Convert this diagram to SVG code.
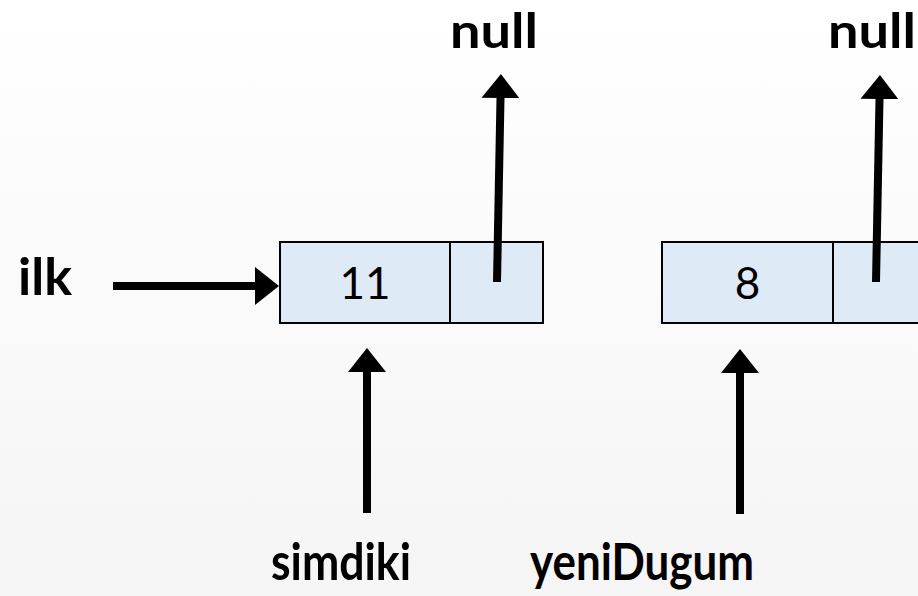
<svg xmlns="http://www.w3.org/2000/svg" width="918" height="596" viewBox="0 0 918 596">
  <style>
    .cell { fill: #DEEAF6; stroke: #000; stroke-width: 2; }
    .val { font-family: Lato, "Open Sans", sans-serif; font-size: 44px; fill: #000; text-anchor: middle; }
    .lbl { font-family: Lato, "Open Sans", sans-serif; font-weight: bold; font-size: 52px; fill: #000; }
    .top { font-size: 47px; }
    .conn { stroke: #000; stroke-width: 8; fill: none; marker-end: url(#head); }
  </style>
  <defs>
    <linearGradient id="bg" x1="0" y1="0" x2="0" y2="1">
      <stop offset="0" stop-color="#FFFFFF"/>
      <stop offset="1" stop-color="#F5F5F5"/>
    </linearGradient>
    <marker id="head" markerUnits="userSpaceOnUse" markerWidth="24" markerHeight="38" refX="0" refY="19" orient="auto" viewBox="0 0 24 38">
      <path d="M0,0 L24,19 L0,38 Z" fill="#000"/>
    </marker>
  </defs>
  <rect x="0" y="0" width="918" height="596" fill="url(#bg)"/>

  <g id="node-11">
    <rect class="cell" x="280" y="242" width="170" height="81"/>
    <rect class="cell" x="450" y="242" width="93" height="81"/>
    <text class="val" x="365" y="299">11</text>
  </g>
  <g id="node-8">
    <rect class="cell" x="662" y="242" width="171" height="81"/>
    <rect class="cell" x="833" y="242" width="93" height="81"/>
    <text class="val" x="747.5" y="299">8</text>
  </g>

  <g id="label-ilk"><text class="lbl" x="18" y="295" textLength="54" lengthAdjust="spacingAndGlyphs">ilk</text></g>
  <g id="label-null-1"><text class="lbl top" x="450" y="48" textLength="88" lengthAdjust="spacingAndGlyphs">null</text></g>
  <g id="label-null-2"><text class="lbl top" x="828" y="48" textLength="88" lengthAdjust="spacingAndGlyphs">null</text></g>
  <g id="label-simdiki"><text class="lbl" x="271" y="580" textLength="140" lengthAdjust="spacingAndGlyphs">simdiki</text></g>
  <g id="label-yeniDugum"><text class="lbl" x="530" y="580" textLength="224" lengthAdjust="spacingAndGlyphs">yeniDugum</text></g>

  <g id="connectors">
    <line class="conn" x1="113" y1="286" x2="255" y2="286"/>
    <line class="conn" x1="497" y1="282" x2="500.5" y2="98"/>
    <line class="conn" x1="876" y1="282" x2="879.5" y2="99"/>
    <line class="conn" x1="367" y1="513" x2="367" y2="372"/>
    <line class="conn" x1="740" y1="514" x2="740" y2="373"/>
  </g>
</svg>
